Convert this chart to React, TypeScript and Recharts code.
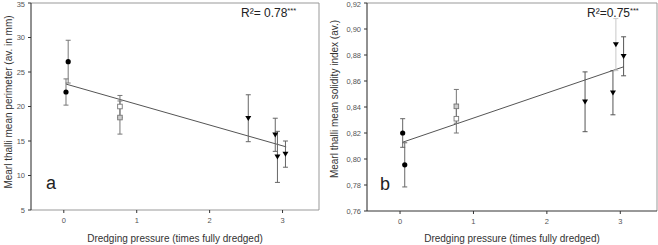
import React from 'react';
import { ScatterChart, Scatter, XAxis, YAxis, ErrorBar, ReferenceLine, Customized } from 'recharts';

// ---- Panel a: mean perimeter ----
const aCircles = [
  { x: 0.03, y: 22.1, err: 1.9 },
  { x: 0.06, y: 26.5, err: 3.1 },
];
const aSquaresOpen = [{ x: 0.77, y: 20.0, err: 1.6 }];
const aSquaresGrey = [{ x: 0.77, y: 18.4, err: 2.4 }];
const aTriangles = [
  { x: 2.53, y: 18.3, err: 3.4 },
  { x: 2.9, y: 15.9, err: 2.4 },
  { x: 2.93, y: 12.7, err: 3.7 },
  { x: 3.04, y: 13.1, err: 1.9 },
];
const aFit = [
  { x: 0.03, y: 23.25 },
  { x: 3.05, y: 14.15 },
];
const aYTicks = [5, 10, 15, 20, 25, 30, 35];

// ---- Panel b: mean solidity index ----
const bCircles = [
  { x: 0.036, y: 0.82, err: 0.011 },
  { x: 0.064, y: 0.7955, err: 0.017 },
];
const bSquaresGrey = [{ x: 0.767, y: 0.8405, err: 0.013 }];
const bSquaresOpen = [{ x: 0.767, y: 0.831, err: 0.011 }];
const bTriangles = [
  { x: 2.52, y: 0.844, err: 0.023 },
  { x: 2.9, y: 0.851, err: 0.017 },
  { x: 3.045, y: 0.879, err: 0.015 },
];
const bTrianglesLight = [{ x: 2.94, y: 0.888, err: 0.02 }];
const bFit = [
  { x: 0.04, y: 0.813 },
  { x: 3.05, y: 0.871 },
];
const bYTicks = [0.76, 0.78, 0.8, 0.82, 0.84, 0.86, 0.88, 0.9, 0.92];

const xTicks = [0, 1, 2, 3];
const xDomain: [number, number] = [-0.45, 3.5];
const xTitle = 'Dredging pressure (times fully dredged)';

const FONT = '"Liberation Sans", Arial, sans-serif';

const Circ = (p: any) => <circle cx={p.cx} cy={p.cy} r={2.6} fill="#000" />;
const SqOpen = (p: any) => (
  <rect x={p.cx - 2.3} y={p.cy - 2.3} width={4.6} height={4.6} fill="#fff" stroke="#777" strokeWidth={0.9} />
);
const SqGrey = (p: any) => (
  <rect x={p.cx - 2.3} y={p.cy - 2.3} width={4.6} height={4.6} fill="#ccc" stroke="#777" strokeWidth={0.9} />
);
const Tri = (p: any) => (
  <polygon
    points={`${p.cx - 3},${p.cy - 2.3} ${p.cx + 3},${p.cy - 2.3} ${p.cx},${p.cy + 2.7}`}
    fill="#000"
  />
);

const yTitle = (text: string, x: number, y: number) => (props: any) => (
  <text
    x={x}
    y={y}
    transform={`rotate(-90, ${x}, ${y})`}
    textAnchor="middle"
    dominantBaseline="central"
    fontSize={10}
    fill="#333"
    fontFamily={FONT}
  >
    {text}
  </text>
);

const Annot = (r2: string, rx: number, letter: string, lx: number, ly: number) => () => (
  <g fontFamily={FONT}>
    <text x={rx} y={17} fontSize={12} fill="#222">
      {r2}
      <tspan fontSize={7.5} dy={-4}>***</tspan>
    </text>
    <text x={lx} y={ly} fontSize={18} fill="#222">
      {letter}
    </text>
  </g>
);

const tickStyle = { fontSize: 7.5, fill: '#555', fontFamily: FONT };
const fmtComma = (v: number) => v.toFixed(2).replace('.', ',');

export default function App() {
  return (
    <div style={{ position: 'absolute', left: 0, top: 0, width: 658, height: 245, display: 'flex', background: '#fff' }}>
      <ScatterChart width={329} height={245} margin={{ top: 3, right: 10, bottom: 0, left: 0 }}>
        <XAxis
          type="number"
          dataKey="x"
          domain={xDomain}
          ticks={xTicks}
          allowDataOverflow
          height={35}
          tickSize={3}
          tickMargin={5}
          tick={tickStyle}
          axisLine={{ stroke: '#999' }}
          tickLine={{ stroke: '#333' }}
          label={{ value: xTitle, position: 'insideBottom', offset: 3, fontSize: 10, fill: '#333', fontFamily: FONT }}
        />
        <YAxis
          type="number"
          dataKey="y"
          domain={[5, 35]}
          ticks={aYTicks}
          allowDataOverflow
          width={31}
          tickSize={3}
          tickMargin={3}
          tick={tickStyle}
          axisLine={{ stroke: '#222' }}
          tickLine={{ stroke: '#333' }}
          label={{ content: yTitle('Mearl thalli mean perimeter (av. in mm)', 8, 102) }}
        />
        <ReferenceLine y={35} stroke="#999" />
        <ReferenceLine x={3.5} stroke="#999" />
        <ReferenceLine segment={aFit} stroke="#555" strokeWidth={1} />
        <Scatter data={aCircles} shape={Circ} isAnimationActive={false}>
          <ErrorBar dataKey="err" direction="y" width={2.5} stroke="#777" strokeWidth={1} />
        </Scatter>
        <Scatter data={aSquaresOpen} shape={SqOpen} isAnimationActive={false}>
          <ErrorBar dataKey="err" direction="y" width={2.5} stroke="#777" strokeWidth={1} />
        </Scatter>
        <Scatter data={aSquaresGrey} shape={SqGrey} isAnimationActive={false}>
          <ErrorBar dataKey="err" direction="y" width={2.5} stroke="#777" strokeWidth={1} />
        </Scatter>
        <Scatter data={aTriangles} shape={Tri} isAnimationActive={false}>
          <ErrorBar dataKey="err" direction="y" width={2.5} stroke="#666" strokeWidth={1} />
        </Scatter>
        <Customized component={Annot('R²= 0.78', 241, 'a', 46, 189)} />
      </ScatterChart>

      <ScatterChart width={329} height={245} margin={{ top: 3, right: 1, bottom: 0, left: 0 }}>
        <XAxis
          type="number"
          dataKey="x"
          domain={xDomain}
          ticks={xTicks}
          allowDataOverflow
          height={34}
          tickSize={3}
          tickMargin={5}
          tick={tickStyle}
          axisLine={{ stroke: '#333' }}
          tickLine={{ stroke: '#333' }}
          label={{ value: xTitle, position: 'insideBottom', offset: 3, fontSize: 10, fill: '#333', fontFamily: FONT }}
        />
        <YAxis
          type="number"
          dataKey="y"
          domain={[0.76, 0.92]}
          ticks={bYTicks}
          allowDataOverflow
          width={38}
          tickSize={3}
          tickMargin={3}
          tick={tickStyle}
          tickFormatter={fmtComma}
          axisLine={{ stroke: '#222' }}
          tickLine={{ stroke: '#333' }}
          label={{ content: yTitle('Mearl thalli mean solidity index (av.)', 5, 99) }}
        />
        <ReferenceLine y={0.92} stroke="#999" />
        <ReferenceLine x={3.5} stroke="#999" />
        <ReferenceLine segment={bFit} stroke="#555" strokeWidth={1} />
        <Scatter data={bCircles} shape={Circ} isAnimationActive={false}>
          <ErrorBar dataKey="err" direction="y" width={2.5} stroke="#666" strokeWidth={1} />
        </Scatter>
        <Scatter data={bSquaresGrey} shape={SqGrey} isAnimationActive={false}>
          <ErrorBar dataKey="err" direction="y" width={2.5} stroke="#777" strokeWidth={1} />
        </Scatter>
        <Scatter data={bSquaresOpen} shape={SqOpen} isAnimationActive={false}>
          <ErrorBar dataKey="err" direction="y" width={2.5} stroke="#777" strokeWidth={1} />
        </Scatter>
        <Scatter data={bTriangles} shape={Tri} isAnimationActive={false}>
          <ErrorBar dataKey="err" direction="y" width={2.5} stroke="#555" strokeWidth={1} />
        </Scatter>
        <Scatter data={bTrianglesLight} shape={Tri} isAnimationActive={false}>
          <ErrorBar dataKey="err" direction="y" width={2.5} stroke="#c8c8c8" strokeWidth={1} />
        </Scatter>
        <Customized component={Annot('R²=0.75', 258, 'b', 51, 190)} />
      </ScatterChart>
    </div>
  );
}
